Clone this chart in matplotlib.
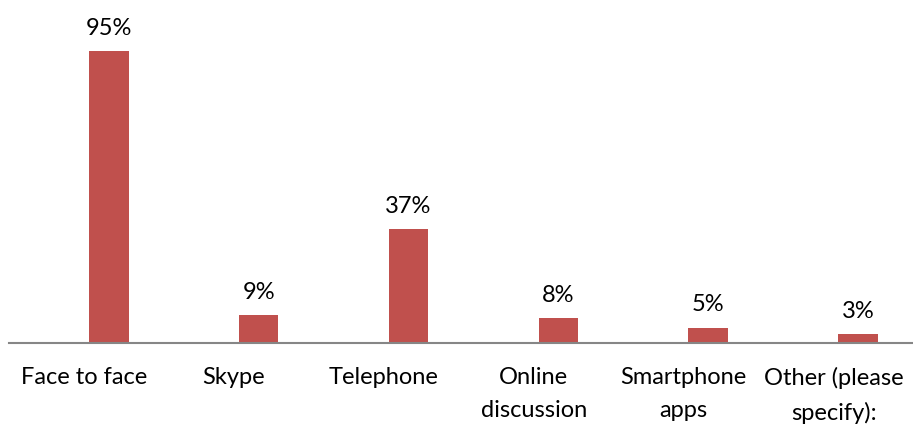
import matplotlib
matplotlib.use("Agg")
import matplotlib.pyplot as plt
import numpy as np

categories = ["Face to face", "Skype", "Telephone", "Online\ndiscussion",
              "Smartphone\napps", "Other (please\nspecify):"]
values = [95, 9, 37, 8, 5, 3]

plt.rcParams['font.family'] = ['Lato', 'DejaVu Sans']

fig = plt.figure(figsize=(9.13, 4.25), dpi=100)
ax = fig.add_axes([9 / 913, 82 / 425, 904 / 913, 307 / 425])

x = np.arange(len(categories))
bars = ax.bar(x + 0.165, values, width=0.265, color='#C0504D')

for xi, v in zip(x, values):
    ax.text(xi + 0.165, v + 4.0, f"{v}%", ha='center', va='bottom', fontsize=17, color='black')

ax.set_xlim(-0.5, len(categories) - 0.47)
ax.set_ylim(0, 100)
ax.set_xticks(x)
ax.set_xticklabels(categories, fontsize=17, linespacing=1.75)
ax.tick_params(axis='x', length=0, pad=17)
ax.set_yticks([])
for s in ['top', 'right', 'left']:
    ax.spines[s].set_visible(False)
ax.spines['bottom'].set_color('#868686')
ax.spines['bottom'].set_linewidth(1.5)

fig.savefig("out.png", dpi=100)
